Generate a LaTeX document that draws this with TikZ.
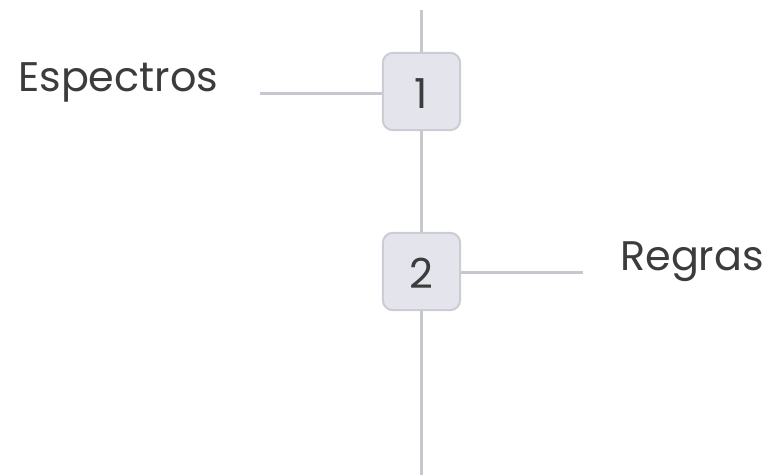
\documentclass[tikz,border=0pt]{standalone}
\usepackage{fontspec}
\setmainfont{Poppins}
\usepackage{tikz}
\usetikzlibrary{positioning}
\definecolor{linegray}{RGB}{199,199,207}
\definecolor{boxfill}{RGB}{228,228,236}
\definecolor{boxdraw}{RGB}{204,204,212}
\definecolor{textdark}{RGB}{60,60,60}

\begin{document}
\begin{tikzpicture}[
    x=0.75pt, y=-0.75pt,
    step box/.style={rectangle, rounded corners=7.5pt, draw=boxdraw, line width=1.5pt, fill=boxfill, minimum width=58pt, minimum height=58pt, inner sep=0pt, text height=26pt, text depth=1.2pt, font=\fontsize{31}{31}\selectfont, text=textdark},
    label text/.style={font=\fontsize{31}{31}\selectfont, text=textdark, inner sep=0pt},
    link/.style={draw=linegray, line width=2.25pt}
]
\useasboundingbox (0,0) rectangle (771,475);

% === TIMELINE ===
\coordinate (top) at (421.5,10);
\coordinate (bottom) at (421.5,475);
\node[step box] (one) at (421.5,91.5) {1};
\node[step box] (two) at (421.5,271.5) {2};

\draw[link] (top) -- (one.north);
\draw[link] (one.south) -- (two.north);
\draw[link] (two.south) -- (bottom);

% === LABELS ===
\node[label text, anchor=base west] (espectros) at (18,91) {Espectros};
\coordinate (espend) at (260,93);
\draw[link] (espend) -- (one.west |- espend);

\node[label text, anchor=base west] (regras) at (620,270) {Regras};
\coordinate (regend) at (583,272);
\draw[link] (two.east |- regend) -- (regend);

\end{tikzpicture}
\end{document}
